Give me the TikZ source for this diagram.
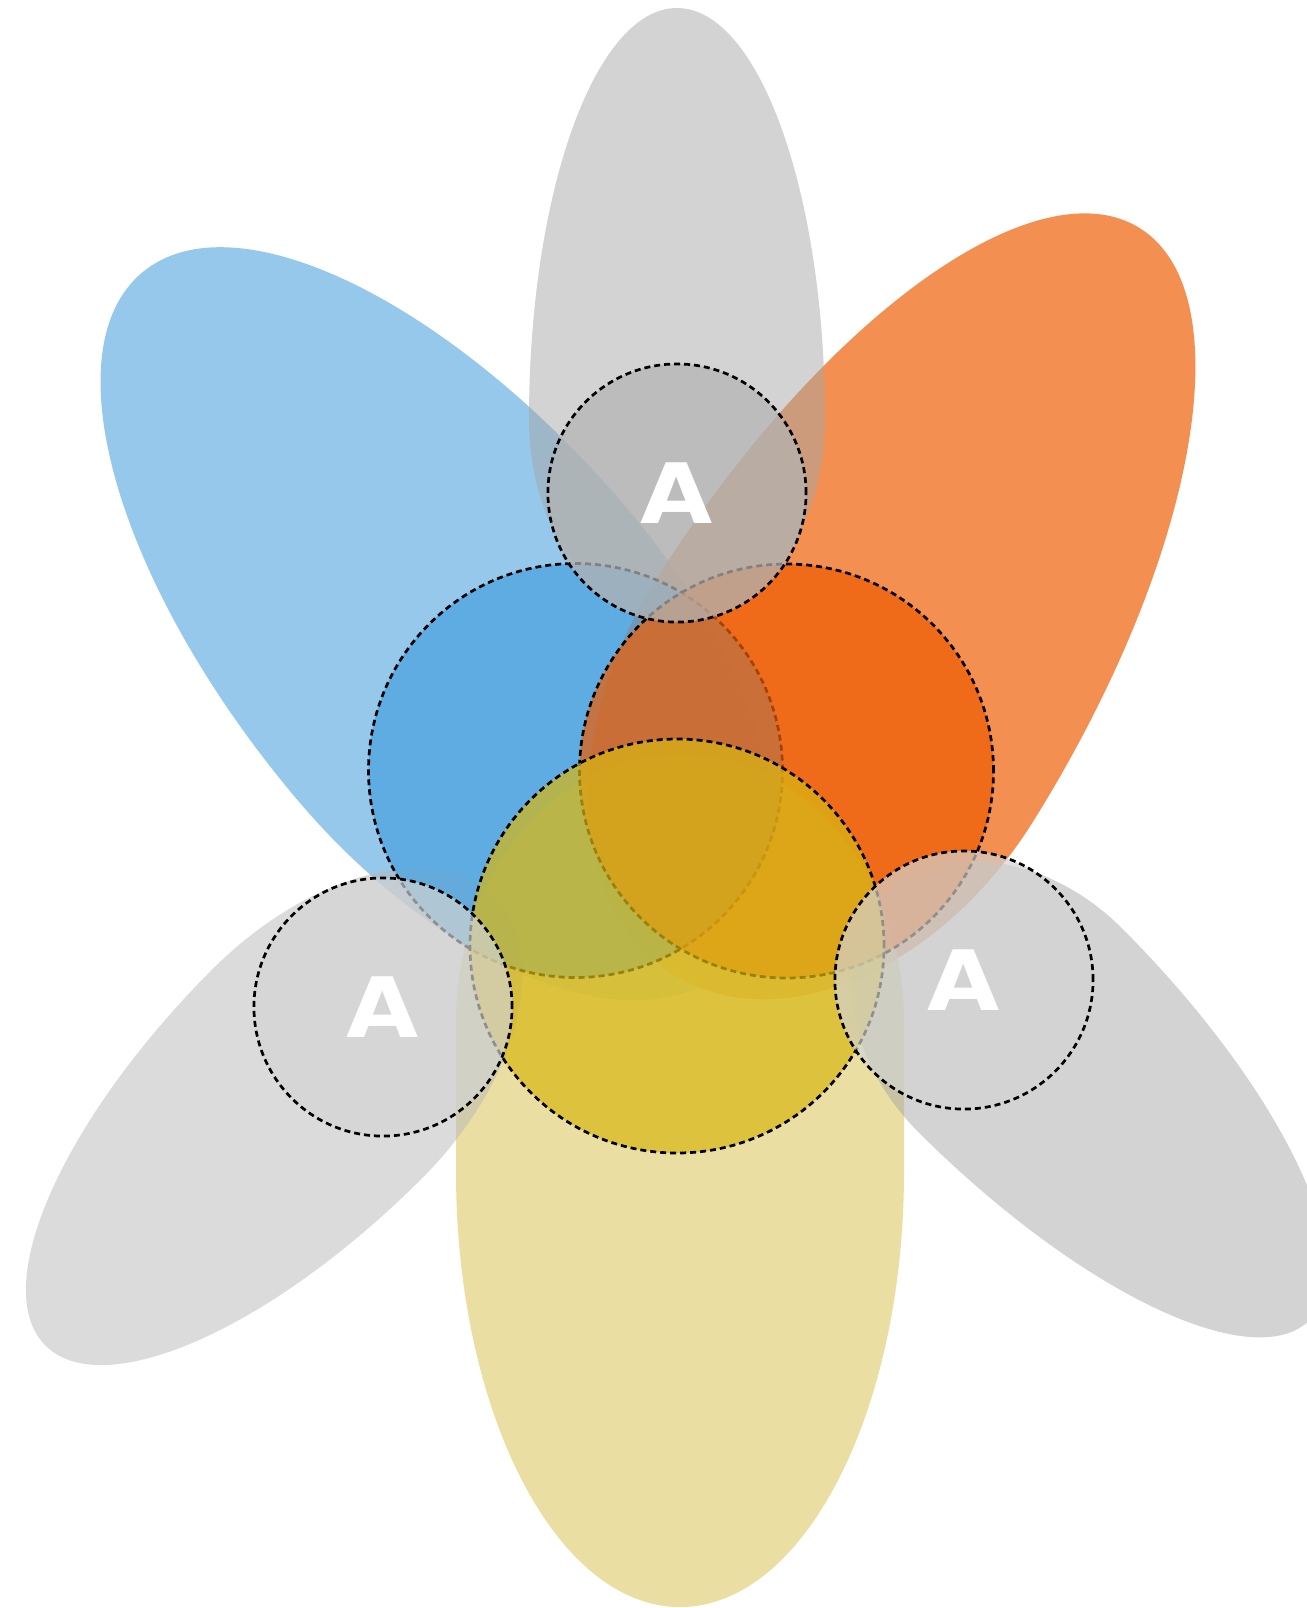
\documentclass[tikz,border=0pt]{standalone}
\usepackage{fontspec}
\setsansfont{DejaVu Sans}
\usetikzlibrary{positioning}
\definecolor{leafblue}{RGB}{114,182,227}
\definecolor{leaforange}{RGB}{240,106,22}
\definecolor{leafyellow}{RGB}{228,212,131}
\definecolor{leafgray}{RGB}{167,168,167}
\definecolor{leaflight}{RGB}{185,185,185}
\definecolor{ringblue}{RGB}{72,161,224}
\definecolor{ringorange}{RGB}{238,93,3}
\definecolor{ringyellow}{RGB}{216,184,19}
\definecolor{dottop}{RGB}{179,180,179}
\definecolor{dotside}{RGB}{211,212,211}

% egg shaped petal: centre x, centre y, angle, outer radius, inner radius, half width, style
\newcommand{\drawpetal}[7]{%
  \begin{scope}[shift={(#1,#2)}, rotate=#3]
    \fill[#7] (-#4,0) arc[start angle=180, end angle=90, x radius=#4, y radius=#6]
      arc[start angle=90, end angle=-90, x radius=#5, y radius=#6]
      arc[start angle=-90, end angle=-180, x radius=#4, y radius=#6] -- cycle;
  \end{scope}}

\tikzset{
  bluepetal/.style={fill=leafblue, fill opacity=0.75},
  orangepetal/.style={fill=leaforange, fill opacity=0.75},
  yellowpetal/.style={fill=leafyellow, fill opacity=0.75},
  graypetal/.style={fill=leafgray, fill opacity=0.5},
  lightpetal/.style={fill=leaflight, fill opacity=0.5},
  ring/.style={draw=black, line width=0.77pt, dash pattern=on 1.7pt off 1.14pt},
  bigring/.style={ring, fill opacity=0.7},
  smallring/.style={ring, circle, minimum size=2.58cm, inner sep=0pt, text opacity=1,
    text=white, font=\sffamily\bfseries\fontsize{23.7pt}{24pt}\selectfont},
}

\begin{document}
\begin{tikzpicture}[x=0.01cm, y=0.01cm]
  \useasboundingbox (0,0) rectangle (1307,-1608);
  \fill[white] (0,0) rectangle (1307,-1608);
  \clip (0,0) rectangle (1307,-1608);

  % Petals
  \drawpetal{463.5}{-655.6}{-50}{500}{410}{220}{bluepetal}
  \drawpetal{843}{-703}{238}{560}{320}{224}{orangepetal}
  % bottom petal, its top hidden under the yellow circle
  \fill[yellowpetal] (456,-1172) -- (456,-1020)
    arc[start angle=180, end angle=0, x radius=224, y radius=266] -- (904,-1172)
    arc[start angle=0, end angle=-180, x radius=224, y radius=435] -- cycle;
  \drawpetal{317}{-1074}{45}{384}{250}{148}{lightpetal}
  \drawpetal{1020}{-1030}{135}{410}{190}{144}{graypetal}
  \drawpetal{677}{-420}{-90}{412}{200}{148}{graypetal}

  % Large circles
  \draw[bigring, fill=ringblue] (575.5,-770.5) circle[radius=207];
  \draw[bigring, fill=ringorange] (786.5,-771) circle[radius=207];
  \draw[bigring, fill=ringyellow] (677,-946) circle[radius=207];

  % Small circles
  \node[smallring, fill=dottop, fill opacity=0.72] (topA) at (677,-493) {\scalebox{1.12}[1]{A}};
  \node[smallring, fill=dotside, fill opacity=0.68] (leftA) at (383,-1007) {\scalebox{1.12}[1]{A}};
  \node[smallring, fill=dotside, fill opacity=0.68] (rightA) at (964,-980) {\scalebox{1.12}[1]{A}};
\end{tikzpicture}
\end{document}
